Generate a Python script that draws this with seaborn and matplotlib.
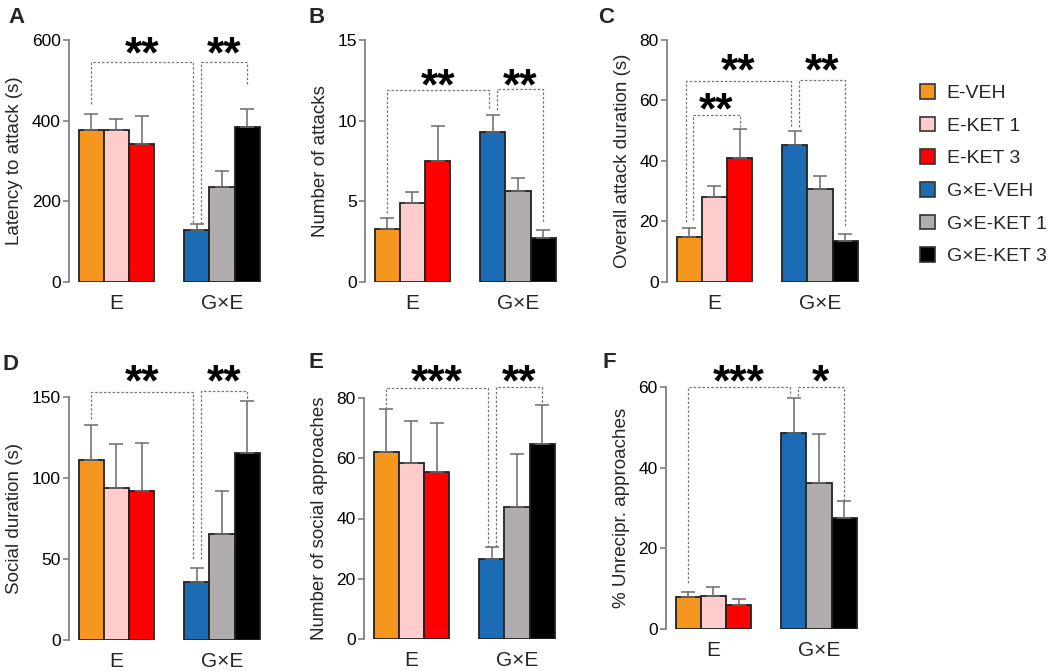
import pandas as pd
import matplotlib
matplotlib.use("Agg")
import matplotlib.pyplot as plt
from matplotlib.patches import Patch
import seaborn as sns

# Groups / treatments
conditions = ["E-VEH", "E-KET 1", "E-KET 3", "G×E-VEH", "G×E-KET 1", "G×E-KET 3"]
groups = ["E", "G×E"]
doses = ["VEH", "KET 1", "KET 3"]
colors = ["#F7961F", "#FFCCCC", "#FF0000", "#1B6CB5", "#B0ADAC", "#000000"]

# Values (mean, SEM)
latency_mean = [377, 377, 343, 128, 234, 385]
latency_sem = [40, 28, 69, 15, 42, 44]
attacks_mean = [3.27, 4.9, 7.49, 9.29, 5.63, 2.73]
attacks_sem = [0.66, 0.65, 2.19, 1.03, 0.78, 0.48]
attack_dur_mean = [14.7, 28.1, 40.8, 45.4, 30.6, 13.5]
attack_dur_sem = [3.0, 3.6, 9.6, 4.5, 4.5, 2.2]
social_dur_mean = [111.3, 94.0, 92.1, 35.6, 65.5, 115.2]
social_dur_sem = [21.2, 27.2, 29.3, 9.1, 26.4, 32.5]
approaches_mean = [62.1, 58.3, 55.3, 26.5, 43.9, 64.7]
approaches_sem = [14.3, 13.9, 16.4, 4.2, 17.6, 13.1]
unrecip_mean = [7.85, 8.1, 6.0, 48.6, 36.2, 27.5]
unrecip_sem = [1.25, 2.3, 1.4, 8.7, 12.2, 4.15]

# significance brackets: (bar i, bar j, top, leg i bottom, leg j bottom, label, star y, offset i, offset j)
sig_A = [(0, 3, 545, 442, 143, "**", 588, 0, -1), (3, 5, 545, 143, 492, "**", 588, 1, 0)]
sig_B = [(0, 3, 11.9, 4.24, 10.66, "**", 12.7, 0, -1), (3, 5, 11.96, 10.66, 3.62, "**", 12.7, 1, 0)]
sig_C = [(0, 3, 66.5, 19.9, 51.3, "**", 72.8, -1, -1), (0, 2, 55.2, 20.4, 51.3, "**", 59.6, 1, 0),
         (3, 5, 66.8, 51.3, 18.2, "**", 72.8, 1, 0)]
sig_D = [(0, 3, 153.3, 136.4, 50, "**", 164.8, 0, -1), (3, 5, 153.9, 50, 148.4, "**", 164.8, 1, 0)]
sig_E = [(0, 3, 83.4, 76.4, 30.7, "***", 88.3, 0, -1), (3, 5, 83.6, 30.7, 78.3, "**", 88.3, 1, 0)]
sig_F = [(0, 3, 60, 11.4, 57.7, "***", 63.5, 0, -1), (3, 5, 60, 57.7, 32, "*", 63.5, 1, 0)]

sns.set_theme(style="ticks")
plt.rcParams["font.family"] = ["Liberation Sans", "DejaVu Sans"]

W, H = 1050, 671
fig = plt.figure(figsize=(W / 100, H / 100), dpi=100)

panels = [
    ("A", "Latency to attack (s)", latency_mean, latency_sem, [0, 200, 400, 600], sig_A, (69, 40, 281.7), (8, 7)),
    ("B", "Number of attacks", attacks_mean, attacks_sem, [0, 5, 10, 15], sig_B, (365, 40, 281.7), (308, 7)),
    ("C", "Overall attack duration (s)", attack_dur_mean, attack_dur_sem, [0, 20, 40, 60, 80], sig_C, (667, 40, 281.7), (598, 7)),
    ("D", "Social duration (s)", social_dur_mean, social_dur_sem, [0, 50, 100, 150], sig_D, (69, 397, 640), (3, 354)),
    ("E", "Number of social approaches", approaches_mean, approaches_sem, [0, 20, 40, 60, 80], sig_E, (364, 398, 639), (309, 352)),
    ("F", "% Unrecipr. approaches", unrecip_mean, unrecip_sem, [0, 20, 40, 60], sig_F, (666, 387, 629), (602, 352)),
]

grey = "#808080"
bar_width = 0.715

for letter, ylabel, means, sems, yticks, sig, (left, top, bottom), (lx, ly) in panels:
    ax = fig.add_axes([left / W, 1 - bottom / H, 192 / W, (bottom - top) / H])
    df = pd.DataFrame({
        "group": [groups[k // 3] for k in range(6)],
        "dose": [doses[k % 3] for k in range(6)],
        "value": means,
    })
    sns.barplot(data=df, x="group", y="value", hue="dose", order=groups, hue_order=doses,
                width=bar_width, errorbar=None, legend=False, ax=ax,
                edgecolor="#222222", linewidth=1.3)
    xs = []
    for k in range(6):
        bar = ax.containers[k % 3][k // 3]
        bar.set_facecolor(colors[k])
        xs.append(bar.get_x() + bar.get_width() / 2)
    bw = ax.containers[0][0].get_width()
    ax.errorbar(xs, means, yerr=[[0] * 6, sems], fmt="none", ecolor="#6a6a6a",
                elinewidth=1.1, capsize=4.7, capthick=1.1, zorder=1)

    for i, j, ytop, yi, yj, label, sy, oi, oj in sig:
        x1 = xs[i] + oi * 0.15 * bw
        x2 = xs[j] + oj * 0.15 * bw
        ax.plot([x1, x1, x2, x2], [yi, ytop, ytop, yj], ls=(0, (2, 1.5)), color="#777777",
                lw=0.9, clip_on=False)
        ax.annotate(label, ((x1 + x2) / 2, sy), xytext=(0, -16), textcoords="offset points",
                    ha="center", va="baseline", fontsize=32, fontweight="bold",
                    color="black", annotation_clip=False)

    ax.set_xlim(-0.45, 1.37)
    ax.set_ylim(0, yticks[-1])
    ax.set_yticks(yticks)
    ax.set_xlabel("")
    ax.set_ylabel(ylabel, fontsize=13.5, labelpad=6)
    for s in ["top", "right", "bottom"]:
        ax.spines[s].set_visible(False)
    ax.spines["left"].set_color(grey)
    ax.spines["left"].set_linewidth(1.3)
    ax.spines["left"].set_bounds(0, yticks[-1])
    ax.tick_params(axis="y", colors=grey, labelcolor="black", length=4, width=1.2,
                   labelsize=12.5, pad=2)
    ax.tick_params(axis="x", length=0, pad=8.5)
    for lbl in ax.get_xticklabels():
        lbl.set_fontsize(15)
    ax.patch.set_alpha(0)

    fig.text(lx / W, 1 - ly / H, letter, fontsize=16, fontweight="bold", ha="left", va="top")

handles = [Patch(facecolor=c, edgecolor="#333333", linewidth=1.2) for c in colors]
fig.legend(handles, conditions, loc="upper left", bbox_to_anchor=(920 / W, 1 - 84 / H),
           frameon=False, fontsize=14, handlelength=0.78, handleheight=0.78,
           handletextpad=0.6, labelspacing=0.75, borderpad=0, borderaxespad=0)

fig.savefig("out.png", dpi=100)
